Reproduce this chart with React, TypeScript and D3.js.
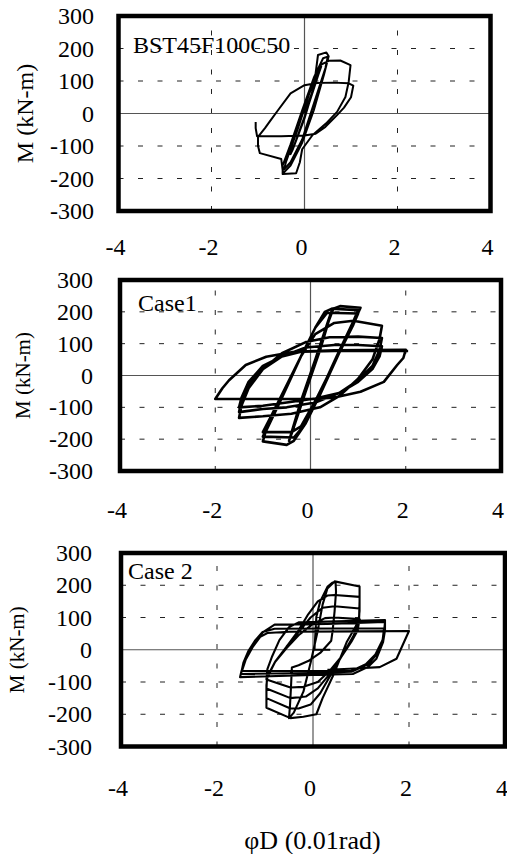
import React from 'react';
import * as d3 from 'd3';

type Pt = [number, number];

const xTickValues = [-4, -2, 0, 2, 4];
const yTickValues = [300, 200, 100, 0, -100, -200, -300];
const xGridValues = [-2, 2];
const yGridValues = [200, 100, -100, -200];
const panelTitles = ['BST45F100C50', 'Case1', 'Case 2'];
const yAxisTitle = 'M (kN-m)';
const xAxisTitle = 'φD (0.01rad)';

// Panel 1: test specimen BST45F100C50 (x: 0.01 rad, y: kN-m)
const bstLoop: Pt[] = [
  [0, 0], [0.15, 60], [0.3, 125], [0.36, 145], [0.3, 120], [0.05, 10], [-0.2, -90], [-0.3, -125],
  [-0.25, -110], [0, -15], [0.2, 80],
  [0.29, 180], [0.47, 188], [0.52, 176], [0.42, 120], [0.2, 10], [-0.05, -90], [-0.3, -160], [-0.42, -178],
  [-0.47, -186], [-0.47, -160], [-0.3, -95], [-0.05, 10], [0.2, 110], [0.4, 170], [0.5, 175], [0.45, 140],
  [0.2, 30], [-0.05, -80], [-0.3, -150], [-0.44, -172], [-0.4, -150], [-0.15, -50], [0.1, 60], [0.35, 150],
  [0.52, 162],
  [0.77, 163], [0.99, 149], [0.95, 97], [0.88, 51], [0.7, 5], [0.46, -31], [0.17, -67], [-0.05, -110],
  [-0.1, -150], [-0.18, -184], [-0.46, -186], [-0.5, -140], [-0.96, -122], [-1.0, -100], [-1.0, -72],
  [-0.85, -45], [-0.73, -21], [-0.57, 10], [-0.3, 62], [0, 87], [0.27, 94], [0.63, 95], [0.95, 93], [1.05, 86],
  [1.0, 50], [0.85, 18], [0.7, -5], [0.45, -41], [0.24, -62], [0, -68], [-0.5, -70], [-1.02, -70], [-1.05, -45],
  [-1.05, -26],
];

// Panel 2: Case1
const case1Loop: Pt[] = [
  [0, 0], [0.15, 65], [0.3, 130], [0.4, 180], [0.45, 205],
  [0.38, 175], [0.1, 50], [-0.2, -80], [-0.38, -170], [-0.45, -205],
  [-0.38, -175], [-0.1, -50], [0.2, 80], [0.38, 170], [0.48, 210],
  [0.55, 214], [0.62, 218], [1.05, 213],
  [0.95, 180], [0.6, 70], [0.2, -60], [-0.1, -150], [-0.35, -205], [-0.5, -218], [-1.0, -207],
  [-0.95, -180], [-0.6, -70], [-0.2, 60], [0.1, 150], [0.3, 200], [0.45, 210], [1.0, 205],
  [0.9, 170], [0.55, 60], [0.15, -70], [-0.15, -160], [-0.35, -195], [-1.0, -192],
  [-0.9, -160], [-0.55, -50], [-0.2, 60], [0.1, 150], [0.35, 197], [1.0, 195],
  [0.9, 160], [0.5, 40], [0.1, -80], [-0.2, -160], [-0.4, -178], [-1.0, -178],
  [-0.8, -120], [-0.5, -30], [-0.2, 60], [0.1, 130], [0.5, 165], [0.9, 172], [1.5, 156],
  [1.45, 115], [1.3, 50], [1.0, -10], [0.6, -65], [0.2, -100], [-0.4, -120], [-1.0, -128], [-1.5, -133],
  [-1.45, -95], [-1.3, -40], [-1.0, 20], [-0.6, 70], [-0.1, 105], [0.4, 120], [1.0, 122], [1.5, 118],
  [1.45, 80], [1.3, 30], [1.0, -15], [0.6, -55], [0.1, -85], [-0.5, -100], [-1.0, -105], [-1.5, -115],
  [-1.45, -80], [-1.3, -30], [-1.0, 20], [-0.6, 60], [-0.1, 88], [0.5, 96], [1.0, 96], [1.5, 92],
  [1.45, 60], [1.3, 20], [1.0, -20], [0.6, -55], [0.1, -72], [-0.5, -85], [-1.0, -95], [-1.5, -100],
  [-1.45, -70], [-1.3, -20], [-1.0, 30], [-0.6, 60], [-0.2, 75], [0.5, 79], [1.2, 80], [2.0, 81],
  [1.95, 55], [1.82, 33], [1.54, -20], [1.05, -51], [0.48, -70], [0, -74], [-1.0, -74], [-2.0, -74],
  [-1.85, -40], [-1.71, -15], [-1.36, 33], [-0.93, 59], [-0.37, 74], [0.5, 77], [2.05, 77],
];

// Panel 3: Case 2
const case2Loop: Pt[] = [
  [0.36, 0], [0.03, 0], [0.05, 50], [0.07, 102], [0.15, 150], [0.3, 195], [0.4, 208], [0.47, 211],
  [0.48, 180], [0.45, 120], [0.41, 60], [0.38, 28], [0.15, -10], [-0.1, -35], [-0.3, -48], [-0.44, -55],
  [-0.46, -120], [-0.48, -175], [-0.5, -212],
  [-0.4, -195], [-0.2, -130], [-0.05, -40], [0.1, 60], [0.2, 140], [0.3, 190], [0.45, 212], [0.97, 196],
  [0.97, 150], [0.96, 100], [0.9, 75], [0.7, 23], [0.42, -80], [0.2, -150], [0.07, -200], [-0.2, -208],
  [-0.47, -212], [-0.97, -180],
  [-0.97, -130], [-0.96, -85], [-0.8, -40], [-0.55, 10], [-0.3, 60], [-0.1, 110], [0.1, 150], [0.3, 168],
  [0.45, 170], [0.97, 164],
  [0.97, 120], [0.95, 90], [0.85, 45], [0.62, -15], [0.38, -75], [0.15, -135], [-0.05, -170], [-0.3, -182],
  [-0.47, -182], [-0.97, -150],
  [-0.97, -110], [-0.95, -85], [-0.78, -35], [-0.55, 10], [-0.3, 55], [-0.05, 100], [0.2, 130], [0.45, 135],
  [0.97, 128],
  [0.96, 95], [0.85, 40], [0.6, -20], [0.35, -75], [0.1, -120], [-0.15, -145], [-0.47, -150], [-0.97, -120],
  [-0.96, -90], [-0.8, -40], [-0.55, 5], [-0.3, 45], [0, 80], [0.25, 98], [0.45, 100], [0.97, 95],
  [0.93, 60], [0.8, 25], [0.6, -20], [0.35, -65], [0.1, -100], [-0.2, -115], [-0.47, -117], [-0.97, -92],
  [-0.95, -60], [-0.85, -20], [-0.7, 30], [-0.5, 70], [-0.3, 85], [0.5, 88], [1.5, 92],
  [1.5, 60], [1.46, 24], [1.32, -28], [1.14, -54], [0.83, -75], [0, -78], [-1.52, -85],
  [-1.49, -66], [-1.39, -19], [-1.25, 17], [-1.04, 55], [-0.8, 78], [0.3, 80], [1.5, 86],
  [1.47, 40], [1.35, -10], [1.15, -45], [0.8, -68], [0, -72], [-1.5, -75],
  [-1.45, -40], [-1.35, -5], [-1.2, 30], [-1.05, 55], [-0.8, 65], [0.5, 66], [1.48, 66],
  [1.45, 30], [1.3, -15], [1.1, -45], [0.8, -66], [-1.48, -66],
  [-1.4, -30], [-1.25, 10], [-1.1, 40], [-0.95, 52], [-0.5, 56], [1.0, 57], [2.0, 58],
  [1.74, -28], [1.39, -54], [0.76, -59], [0.3, -62],
];

const series: Pt[][] = [bstLoop, case1Loop, case2Loop];

const layouts = [
  { left: 118.5, right: 490.5, top: 16, bottom: 211, tickRight: 94, xTickY: 247, yTitleX: 25, yTitleSize: 24, titleX: 133, titleY: 52.5, lw: 2 },
  { left: 120, right: 501, top: 280, bottom: 471, tickRight: 93, xTickY: 510, yTitleX: 23, yTitleSize: 21, titleX: 138, titleY: 310.5, lw: 2.6 },
  { left: 121, right: 505, top: 553, bottom: 746.5, tickRight: 92, xTickY: 788, yTitleX: 17, yTitleSize: 21, titleX: 128, titleY: 578.5, lw: 2.1 },
];

const FONT = "'Liberation Serif','Times New Roman',serif";

export default function App() {
  return (
    <svg
      width={507}
      height={854}
      style={{ position: 'absolute', left: 0, top: 0, background: '#fff' }}
      fontFamily={FONT}
    >
      <rect width={507} height={854} fill="#fff" />
      {layouts.map((L, i) => {
        const x = d3.scaleLinear().domain([-4, 4]).range([L.left, L.right]);
        const y = d3.scaleLinear().domain([-300, 300]).range([L.bottom, L.top]);
        const line = d3.line<Pt>().x((d) => x(d[0])).y((d) => y(d[1]));
        const cy = (L.top + L.bottom) / 2;
        return (
          <g key={i}>
            {yGridValues.map((v) => (
              <line key={'h' + v} x1={L.left} x2={L.right} y1={y(v)} y2={y(v)} stroke="#222" strokeWidth={1} strokeDasharray="5,14.5" />
            ))}
            {xGridValues.map((v) => (
              <line key={'v' + v} x1={x(v)} x2={x(v)} y1={L.bottom} y2={L.top} stroke="#222" strokeWidth={1} strokeDasharray="5,14.5" />
            ))}
            <line x1={L.left} x2={L.right} y1={y(0)} y2={y(0)} stroke="#555" strokeWidth={1.2} />
            <line x1={x(0)} x2={x(0)} y1={L.top} y2={L.bottom} stroke="#555" strokeWidth={1.2} />
            <text x={L.titleX} y={L.titleY} fontSize={24} fill="#000">{panelTitles[i]}</text>
            <path d={line(series[i]) || ''} fill="none" stroke="#000" strokeWidth={L.lw} strokeLinejoin="round" />
            <rect x={L.left} y={L.top} width={L.right - L.left} height={L.bottom - L.top} fill="none" stroke="#000" strokeWidth={4.5} />
            {yTickValues.map((v) => (
              <text key={'yt' + v} x={L.tickRight} y={y(v)} fontSize={24} textAnchor="end" dominantBaseline="central" fill="#000">{v}</text>
            ))}
            {xTickValues.map((v) => (
              <text key={'xt' + v} x={x(v) - 3} y={L.xTickY} fontSize={24} textAnchor="middle" dominantBaseline="central" fill="#000">{v}</text>
            ))}
            <text
              transform={`translate(${L.yTitleX},${cy}) rotate(-90)`}
              fontSize={L.yTitleSize}
              textAnchor="middle"
              dominantBaseline="central"
              fill="#000"
            >
              {yAxisTitle}
            </text>
          </g>
        );
      })}
      <text x={312.5} y={840} fontSize={26} textAnchor="middle" dominantBaseline="central" fill="#000">{xAxisTitle}</text>
    </svg>
  );
}
